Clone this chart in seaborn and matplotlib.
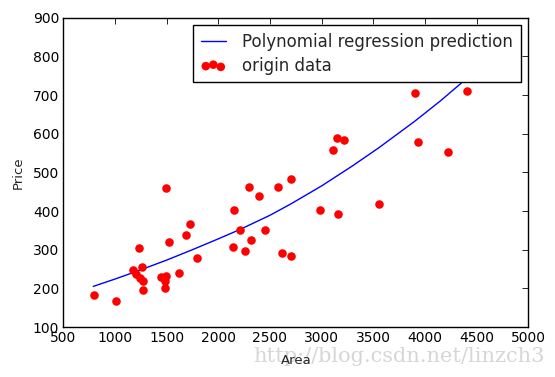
import matplotlib
matplotlib.use("Agg")
import matplotlib.pyplot as plt
import seaborn as sns
import pandas as pd

# house data: area vs price
area = [794, 1010, 1490, 1235, 1722, 1684, 1519, 1797, 1623, 1171,
        1258, 1206, 1245, 1268, 1268, 1448, 1493, 1480, 1480, 2293,
        2390, 2155, 2207, 2313, 2145, 2254, 2574, 2706, 2448, 2613,
        2700, 2981, 3155, 3106, 3900, 4403, 3152, 3213, 3929, 4219,
        3551]
price = [182, 167, 459, 304, 366, 338, 319, 278, 239, 247,
         255, 238, 226, 218, 195, 229, 231, 219, 200, 462,
         438, 402, 350, 324, 306, 296, 462, 482, 350, 291,
         283, 402, 392, 558, 705, 710, 589, 583, 578, 552,
         418]

# regression curve
curve_x = [790, 1000, 1200, 1500, 1750, 2000, 2200, 2500, 2700, 3000,
           3300, 3550, 3900, 4150, 4400]
curve_y = [205, 224, 243, 273, 300, 328, 351, 389, 418, 465,
           517, 563, 632, 685, 742]

data = pd.DataFrame({"area": area, "price": price})
curve = pd.DataFrame({"area": curve_x, "price": curve_y})

sns.set_theme(style="white")
plt.rcParams["font.family"] = ["DejaVu Sans"]

fig = plt.figure(figsize=(5.55, 3.77), dpi=100, facecolor="white")
ax = fig.add_axes([0.114, 0.1326, 0.838, 0.8205])

sns.lineplot(data=curve, x="area", y="price", color="blue", linewidth=1,
             estimator=None, label="Polynomial regression prediction", ax=ax)
sns.scatterplot(data=data, x="area", y="price", color="red", s=38,
                linewidth=0, label="origin data", ax=ax, zorder=3)

ax.set_xlim(500, 5000)
ax.set_ylim(100, 900)
ax.set_xticks(range(500, 5001, 500))
ax.set_yticks(range(100, 901, 100))
ax.tick_params(direction="in", top=True, right=True, length=4, width=0.6,
               labelsize=10, colors="black", pad=3)
for s in ax.spines.values():
    s.set_color("black")
    s.set_linewidth(1.0)

ax.set_xlabel("Area", fontsize=9.5, labelpad=6)
ax.set_ylabel("Price", fontsize=9.5, labelpad=6)

leg = ax.legend(loc="upper right", fontsize=12, frameon=True, fancybox=False,
                scatterpoints=3, scatteryoffsets=[0.375, 0.5, 0.3125],
                borderaxespad=0.45, handlelength=1.5, handletextpad=1.0,
                borderpad=0.45, labelspacing=0.35, framealpha=1)
leg.get_frame().set_edgecolor("black")
leg.get_frame().set_linewidth(1.0)

fig.text(545 / 555, 1 - 356 / 377, "http://blog.csdn.net/linzch3",
         ha="right", va="center", fontsize=15, family="DejaVu Serif",
         color="#d6d6d6", zorder=-1)

fig.savefig("out.png", dpi=100, facecolor="white")
